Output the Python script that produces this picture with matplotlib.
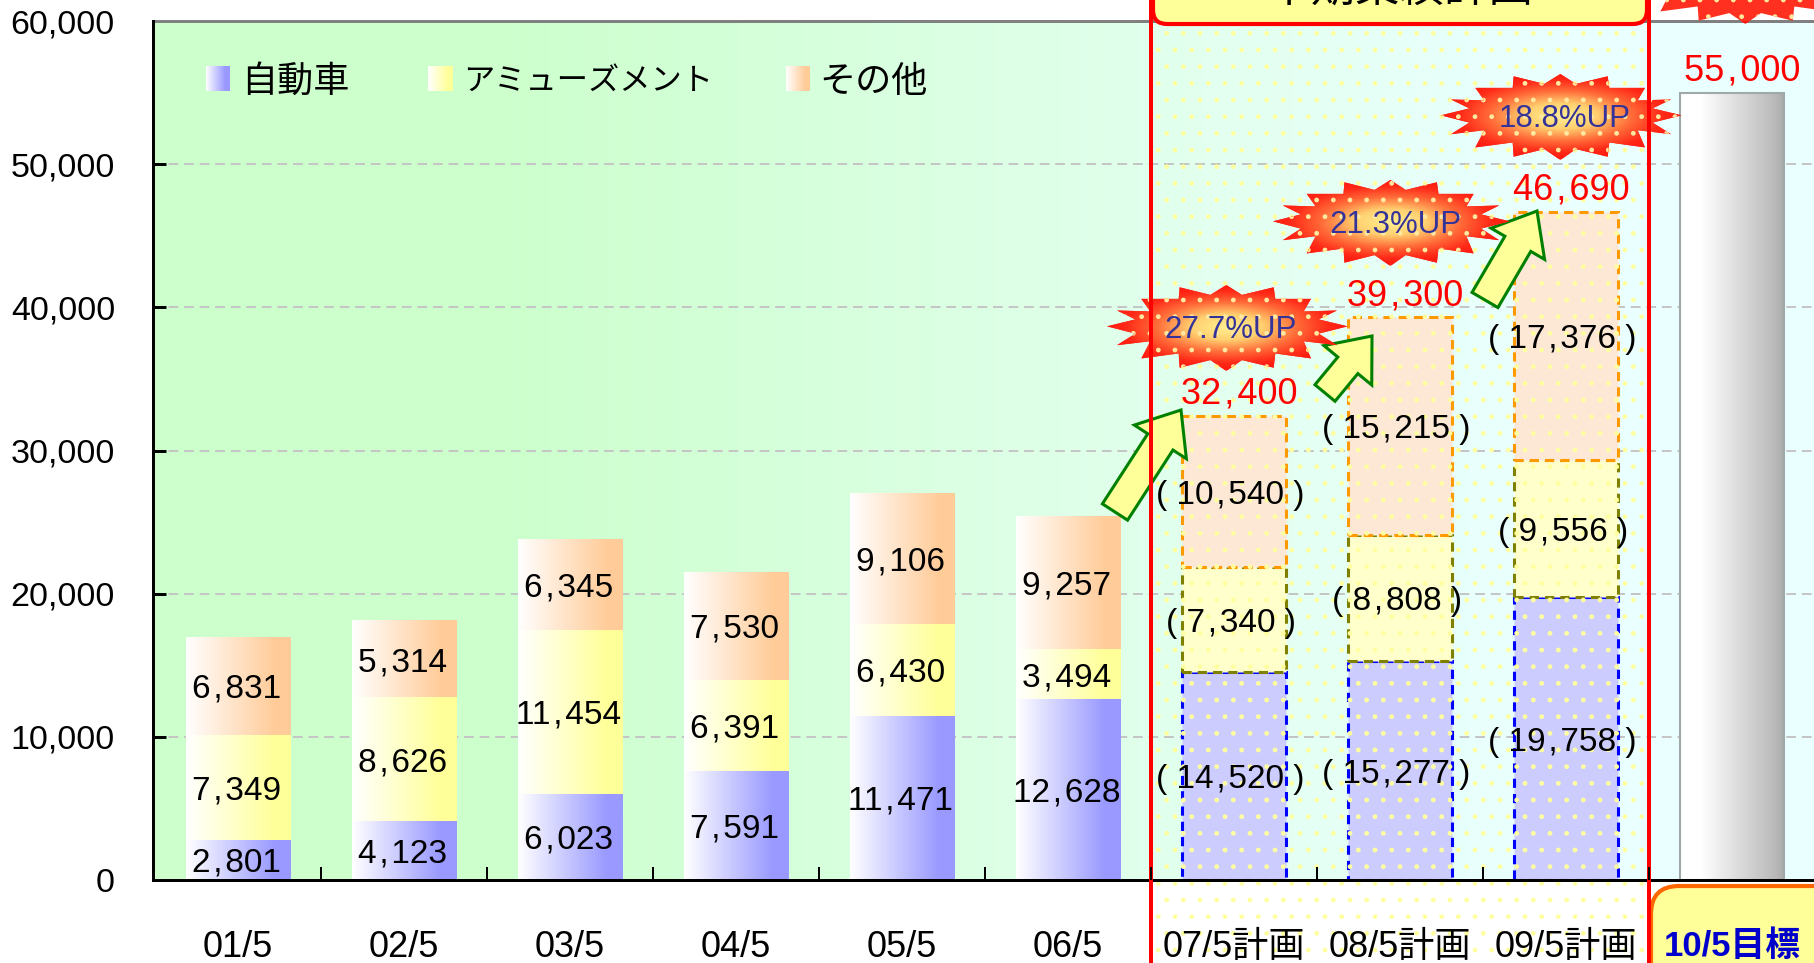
"""Sales by segment: actuals, mid-term plan bars and the 10/5 target."""
import numpy as np
import matplotlib
matplotlib.use("Agg")
import matplotlib.pyplot as plt
from matplotlib import patches as mpatches
from matplotlib.colors import LinearSegmentedColormap
from matplotlib.transforms import Affine2D

plt.rcParams['font.family'] = ['Liberation Sans', 'Noto Sans CJK JP']
plt.rcParams['hatch.linewidth'] = 1.0

W, H = 1814, 963
PX = 72 / 100  # one pixel in points

# --- Data ---
categories = ["01/5", "02/5", "03/5", "04/5", "05/5", "06/5",
              "07/5計画", "08/5計画", "09/5計画", "10/5目標"]
auto = [2801, 4123, 6023, 7591, 11471, 12628, 14520, 15277, 19758]
amuse = [7349, 8626, 11454, 6391, 6430, 3494, 7340, 8808, 9556]
other = [6831, 5314, 6345, 7530, 9106, 9257, 10540, 15215, 17376]
plan_totals = [32400, 39300, 46690]
target = 55000
growth = ["27.7%UP", "21.3%UP", "18.8%UP"]
series_names = ["自動車", "アミューズメント", "その他"]
yticks = [0, 10000, 20000, 30000, 40000, 50000, 60000]

N_ACTUAL = 6
BAR_W = 0.63
full_colors = ["#9999ff", "#ffff99", "#ffcc99"]
plan_fill = ["#ccccff", "#ffffcc", "#fde8d6"]
plan_edge = ["#0000ff", "#808000", "#ff9900"]

# burst outline, tips and notches in turn (-1..1 box)
BURST = np.array([
    (358, 8), (405, 38), (500, 15), (505, 50), (612, 50), (590, 88), (690, 85), (635, 112),
    (722, 133), (635, 155), (690, 190), (590, 178), (612, 230), (505, 215), (500, 258),
    (405, 235), (358, 268), (310, 235), (218, 258), (215, 215), (103, 230), (130, 178),
    (30, 190), (85, 155), (0, 133), (85, 112), (30, 85), (130, 88), (103, 50), (215, 50),
    (218, 15), (310, 38)], dtype=float)
BURST = (BURST - [360, 135]) / [360, 130]

fig = plt.figure(figsize=(W / 100, H / 100), dpi=100, facecolor="white")
ax = fig.add_axes([153 / W, 1 - 880 / H, (W - 153) / W, (880 - 21) / H])
# axes positions: category i sits at 238 + 166 * i pixels
ax.set_xlim((153 - 238) / 166, (W - 238) / 166)
ax.set_ylim(0, 60000)

# pixel coords of the figure, y going down, for the drawn-on shapes
px = Affine2D().scale(1, -1).translate(0, H)


def gradient(extent, colors, transform=None, zorder=1, clip=None, stops=None):
    cmap = LinearSegmentedColormap.from_list(
        "g", list(zip(stops, colors)) if stops else colors)
    im = ax.imshow(np.linspace(0, 1, 256).reshape(1, -1), extent=extent, cmap=cmap,
                   aspect="auto", zorder=zorder, interpolation="bilinear")
    if transform is not None:
        im.set_transform(transform)
    if clip is not None:
        im.set_clip_path(clip)
    return im


def spaced(v, sp="\u200a"):
    return f"{v:,}".replace(",", f"{sp},{sp}")


# --- Background ---
gradient((*ax.get_xlim(), 0, 60000), ["#ccffcc", "#ccffcc", "#e2ffee", "#eaffff", "#eaffff"],
         zorder=0, stops=[0, 0.2, 0.62, 0.85, 1])
ax.set_yticks(yticks)
ax.set_yticklabels([f"{v:,}" for v in yticks], fontsize=24.5, va="center_baseline")
ax.yaxis.grid(True, color="#c4c4c4", ls=(0, (5, 3)), lw=1.4)
ax.set_axisbelow(True)
ax.tick_params(axis="y", direction="in", length=13 * PX, width=3 * PX, pad=38 * PX, color="black")

x_pos = np.arange(len(categories))
ax.set_xticks(x_pos)
ax.set_xticklabels(categories, fontsize=26)
ax.set_xticks(x_pos[:-1] + 0.5, minor=True)
ax.tick_params(axis="x", which="major", length=0, pad=50 * PX)
ax.tick_params(axis="x", which="minor", direction="in", length=13 * PX, width=2 * PX)
ax.xaxis.set_zorder(7.5)
tl = ax.get_xticklabels()[-1]
tl.set_color("#0000cc")
tl.set_fontweight("bold")
tl.set_fontsize(25)

for s in ["left", "bottom"]:
    ax.spines[s].set_linewidth(3 * PX)
    ax.spines[s].set_zorder(6)
ax.spines["top"].set_color("#808080")
ax.spines["top"].set_linewidth(3 * PX)
ax.spines["right"].set_visible(False)

# --- Actual stacks, white to colour across the bar ---
for i in range(N_ACTUAL):
    bottom = 0
    for vals, col in zip((auto, amuse, other), full_colors):
        v = vals[i]
        gradient((i - BAR_W / 2, i + BAR_W / 2, bottom, bottom + v),
                 ["#ffffff", col, col], zorder=2, stops=[0, 0.85, 1])
        ax.text(i - 0.01, bottom + v / 2, spaced(v), ha="center", va="center_baseline",
                fontsize=24, zorder=5)
        bottom += v

# --- Plan stacks, dashed outlines ---
for i in range(N_ACTUAL, len(auto)):
    bottom = 0
    for vals, fc, ec in zip((auto, amuse, other), plan_fill, plan_edge):
        v = vals[i]
        ax.bar(i, v, BAR_W, bottom=bottom, color=fc, edgecolor=ec, lw=2.2,
               ls=(0, (3, 2)), zorder=2)
        ax.text(i - 0.02, bottom + v / 2, f"( {spaced(v)} )", ha="center",
                va="center_baseline", fontsize=24, zorder=8)
        bottom += v
    ax.annotate(spaced(plan_totals[i - N_ACTUAL]), (i, bottom), xytext=(4, 3),
                textcoords="offset points", ha="center", va="bottom",
                color="#ff0000", fontsize=26, zorder=8)

# --- Target bar ---
i = len(auto)
gradient((i - BAR_W / 2, i + BAR_W / 2, 0, target),
         ["#ffffff", "#ffffff", "#b8b8b8", "#a8a8a8"], zorder=2, stops=[0, 0.2, 0.92, 1])
ax.bar(i, target, BAR_W, color="none", edgecolor="#a0a8a8", lw=1.5, zorder=3)
ax.annotate(spaced(target), (i, target), xytext=(7, 3), textcoords="offset points",
            ha="center", va="bottom", color="#ff0000", fontsize=26, zorder=8)

# --- Plan panel: dotted overlay, red frame, header box ---
ax.add_patch(mpatches.Rectangle((1151, 0), 498, H, transform=px, clip_on=False, fc="none",
                                ec="#ffffa0", hatch=".", lw=0, zorder=4))
ax.add_patch(mpatches.Rectangle((1151, -10), 498, H + 20, transform=px, clip_on=False, fc="none",
                                ec="#ff0000", lw=4 * PX, zorder=7))
box = mpatches.FancyBboxPatch((1165, -30), 470, 42, boxstyle="round,pad=12,rounding_size=14",
                              transform=px, clip_on=False, fc="#ffff99", ec="#ff0000",
                              lw=3, zorder=7)
ax.add_patch(box)
ax.text(1400, 1, "中期業績計画", transform=px, ha="center", va="baseline", fontsize=32, zorder=8,
        clip_on=False)

box2 = mpatches.FancyBboxPatch((1680, 915), 200, 80, boxstyle="round,pad=29,rounding_size=28",
                               transform=px, clip_on=False, fc="#ffff99", ec="#ff6600",
                               lw=3, zorder=1.5)
ax.add_patch(box2)


# --- Growth bursts and arrows ---
def burst(cx, cy, hw, hh, label):
    pts = BURST * [hw, hh] + [cx, cy]
    patch = mpatches.Polygon(pts, closed=True, transform=px, fc="#ff3020", ec="none",
                             clip_on=False, zorder=6)
    ax.add_patch(patch)
    yy, xx = np.mgrid[-1:1:60j, -1:1:160j]
    r = np.clip(np.hypot(xx, yy), 0, 1)
    cmap = LinearSegmentedColormap.from_list(
        "b", [(0, "#fff090"), (0.3, "#ffd070"), (0.6, "#ff6a38"), (0.85, "#ff2a18"), (1, "#ff1a10")])
    im = ax.imshow(r, extent=(cx - hw, cx + hw, cy + hh, cy - hh), cmap=cmap, aspect="auto",
                   zorder=6.1, vmin=0, vmax=1, origin="upper")
    im.set_transform(px)
    im.set_clip_path(patch)
    im.set_clip_on(True)
    dots = mpatches.Polygon(pts, closed=True, transform=px, fc="none", ec="#ffe9a0", lw=0,
                            hatch=".", clip_on=False, zorder=6.2)
    ax.add_patch(dots)
    if label:
        ax.text(cx + 4, cy + 3, label, transform=px, ha="center", va="center", color="#333399",
                fontsize=22.5, zorder=8, clip_on=False)


def arrow(x0, y0, x1, y1, shaft):
    ax.add_patch(mpatches.FancyArrow(x0, y0, x1 - x0, y1 - y0, width=shaft, head_width=62,
                                     head_length=38, length_includes_head=True, transform=px,
                                     fc="#ffff99", ec="#008000", lw=2.2, clip_on=False, zorder=5.5))


arrow(1115, 512, 1181, 410, 30)
arrow(1325, 393, 1372, 336, 26)
arrow(1485, 300, 1537, 211, 30)
burst(1227, 327, 120, 43, growth[0])
burst(1391, 222, 118, 43, growth[1])
burst(1561, 116, 120, 43, growth[2])
burst(1746, -20, 120, 43, "")

# --- Legend ---
swatch_x = [(206, 230), (428, 453), (786, 810)]
text_x = [241, 463, 819]
text_size = [26, 22.5, 26]
for (x0, x1), tx, col, name, fs in zip(swatch_x, text_x, full_colors, series_names, text_size):
    gradient((x0, x1, 91, 66), ["#ffffff", col, col], transform=px, zorder=3, stops=[0, 0.8, 1])
    ax.text(tx, 82, name, transform=px, va="center", ha="left", fontsize=fs, zorder=8)

ax.set_xlim((153 - 238) / 166, (W - 238) / 166)
ax.set_ylim(0, 60000)
fig.savefig("out.png", dpi=100)
